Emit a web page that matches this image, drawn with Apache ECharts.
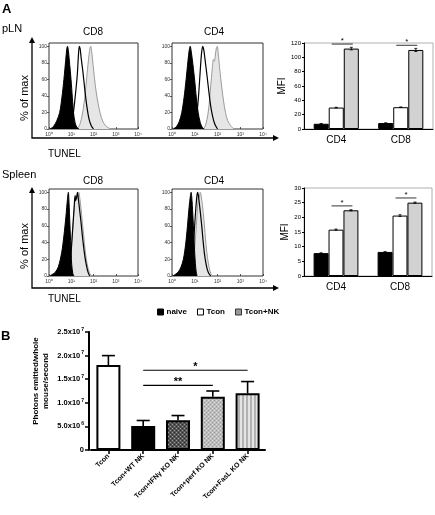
<!DOCTYPE html>
<html><head><meta charset="utf-8">
<script src="https://cdn.jsdelivr.net/npm/echarts@6/dist/echarts.min.js"></script>
<style>html,body{margin:0;padding:0;background:#fff}#c{width:435px;height:515px}</style>
</head><body><div id="c"></div><script>
// ---------- DATA ----------
// Histograms: [log10(TUNEL), % of max]
const histTickLabels = ['10\u2070','10\u00b9','10\u00b2','10\u00b3','10\u2074'];
const plnCd8Naive = [[0.05,0],[0.2,3],[0.35,10],[0.48,20],[0.58,38],[0.67,60],[0.75,83],[0.8,97],[0.83,100],[0.87,95],[0.93,78],[0.99,60],[1.05,38],[1.1,20],[1.17,8],[1.25,2],[1.35,0]];
const plnCd8Tcon = [[0.9,0],[0.98,4],[1.06,12],[1.12,25],[1.2,45],[1.27,65],[1.32,88],[1.36,100],[1.4,97],[1.45,85],[1.52,70],[1.58,55],[1.65,38],[1.72,24],[1.8,12],[1.9,4],[2.0,0]];
const plnCd8TconNK = [[1.25,0],[1.38,5],[1.5,18],[1.58,32],[1.66,52],[1.73,72],[1.8,90],[1.85,99],[1.88,100],[1.92,93],[1.98,78],[2.05,60],[2.12,45],[2.2,32],[2.3,19],[2.42,9],[2.55,4],[2.7,1],[2.8,0]];
const plnCd4Naive = [[0.05,0],[0.2,3],[0.32,9],[0.43,20],[0.53,38],[0.62,60],[0.7,82],[0.76,96],[0.8,100],[0.85,93],[0.92,78],[1.0,58],[1.07,38],[1.15,20],[1.24,8],[1.33,2],[1.42,0]];
const plnCd4Tcon = [[0.93,0],[1.0,4],[1.06,12],[1.12,25],[1.18,45],[1.24,70],[1.3,92],[1.35,100],[1.4,95],[1.47,80],[1.55,62],[1.62,45],[1.7,28],[1.78,16],[1.88,6],[2.0,0]];
const plnCd4TconNK = [[1.38,0],[1.48,5],[1.58,18],[1.65,35],[1.72,58],[1.78,76],[1.82,84],[1.86,82],[1.9,88],[1.95,98],[1.99,100],[2.03,92],[2.1,72],[2.18,52],[2.26,35],[2.35,20],[2.45,10],[2.58,4],[2.72,0]];
const splCd8Naive = [[0.05,0],[0.15,2],[0.27,4],[0.42,11],[0.57,28],[0.67,48],[0.76,71],[0.83,92],[0.87,100],[0.9,88],[0.94,62],[0.98,36],[1.02,14],[1.07,3],[1.12,0]];
const splCd8Tcon = [[0.75,0],[0.85,4],[0.93,14],[0.98,24],[1.03,42],[1.08,62],[1.13,82],[1.17,96],[1.2,90],[1.24,94],[1.28,100],[1.32,92],[1.38,78],[1.44,64],[1.5,48],[1.56,34],[1.62,22],[1.68,13],[1.75,5],[1.83,0]];
const splCd8TconNK = [[0.72,0],[0.82,5],[0.9,15],[0.97,28],[1.03,46],[1.09,66],[1.15,85],[1.2,96],[1.25,93],[1.3,98],[1.34,100],[1.38,94],[1.44,80],[1.5,64],[1.56,48],[1.62,32],[1.68,20],[1.75,10],[1.82,4],[1.9,0]];
const splCd4Naive = [[0.05,0],[0.15,2],[0.28,5],[0.4,11],[0.5,20],[0.6,38],[0.68,60],[0.75,82],[0.81,96],[0.84,100],[0.88,90],[0.93,66],[0.97,42],[1.01,22],[1.05,8],[1.1,0]];
const splCd4Tcon = [[0.7,0],[0.8,6],[0.88,18],[0.95,40],[1.0,62],[1.05,82],[1.1,97],[1.13,100],[1.17,94],[1.23,80],[1.3,62],[1.36,44],[1.42,28],[1.48,17],[1.55,8],[1.62,3],[1.7,0]];
const splCd4TconNK = [[0.72,0],[0.82,6],[0.9,14],[0.97,25],[1.03,45],[1.08,65],[1.13,86],[1.17,97],[1.2,94],[1.24,100],[1.28,96],[1.34,84],[1.4,68],[1.45,52],[1.5,36],[1.56,22],[1.62,12],[1.68,5],[1.76,0]];

// MFI bars
const mfiCategories = ['CD4','CD8'];
const mfiGroups = ['naive','Tcon','Tcon+NK'];
const plnNaive = [7.3, 8.3],   plnNaiveErr = [0.3, 0.3];
const plnTcon = [29.9, 30.4],  plnTconErr = [0.4, 0.4];
const plnTconNK = [112.2, 110.3], plnTconNKErr = [1.8, 2.2];
const plnSig = [118.5, 116.8];
const splNaive = [7.8, 8.2],   splNaiveErr = [0.1, 0.1];
const splTcon = [15.8, 20.6],  splTconErr = [0.2, 0.3];
const splTconNK = [22.4, 25.0], splTconNKErr = [0.2, 0.2];
const splSig = [23.9, 26.6];

// Panel B
const bCategories = ['Tcon','Tcon+WT NK','Tcon+IFN\u03b3 KO NK','Tcon+perf KO NK','Tcon+FasL KO NK'];
const bValues = [1.80e7, 0.51e7, 0.63e7, 1.13e7, 1.20e7];
const bErrors = [0.20e7, 0.115e7, 0.10e7, 0.12e7, 0.25e7];
const bSigFrom = [1, 1], bSigTo = [4, 3];
const bSigLevels = [1.69e7, 1.37e7];
const bSigLabels = ['*', '**'];

// ---------- STYLE ----------
const FONT = 'Liberation Sans, Arial, sans-serif';
function pattern(w, h, draw){ const c = document.createElement('canvas'); c.width = w; c.height = h; draw(c.getContext('2d')); return {image: c, repeat: 'repeat'}; }
const patIFN = pattern(4, 4, g => { g.fillStyle = '#555'; g.fillRect(0,0,4,4); g.fillStyle = '#9a9a9a'; g.fillRect(0,0,1,1); g.fillRect(2,2,1,1); g.fillStyle = '#2a2a2a'; g.fillRect(2,0,1,1); g.fillRect(0,2,1,1); });
const patPerf = pattern(4, 4, g => { g.fillStyle = '#bcbcbc'; g.fillRect(0,0,4,4); g.fillStyle = '#e2e2e2'; g.fillRect(0,0,1,1); g.fillRect(2,2,1,1); g.fillStyle = '#9a9a9a'; g.fillRect(2,0,1,1); g.fillRect(0,2,1,1); });
const patFasL = pattern(4, 4, g => { g.fillStyle = '#e4e4e4'; g.fillRect(0,0,2,4); g.fillStyle = '#b2b2b2'; g.fillRect(2,0,2,4); });
const bFills = ['#ffffff', '#000000', patIFN, patPerf, patFasL];

const histGrids = [
  {left: 49, top: 43, width: 89, height: 86},
  {left: 172, top: 43, width: 91, height: 86},
  {left: 49, top: 189, width: 89, height: 87},
  {left: 172, top: 189, width: 91, height: 87}
];
const histSets = [
  [plnCd8Naive, plnCd8Tcon, plnCd8TconNK],
  [plnCd4Naive, plnCd4Tcon, plnCd4TconNK],
  [splCd8Naive, splCd8Tcon, splCd8TconNK],
  [splCd4Naive, splCd4Tcon, splCd4TconNK]
];

const grids = [], xAxes = [], yAxes = [], series = [];
histGrids.forEach((g, i) => {
  grids.push(Object.assign({show: true, borderColor: '#333', borderWidth: 1, backgroundColor: 'transparent', outerBoundsMode: 'none', containLabel: false}, g));
  xAxes.push({type: 'value', gridIndex: i, min: 0, max: 4, interval: 1,
    axisLine: {show: false}, splitLine: {show: false},
    axisTick: {show: true, inside: true, length: 2, lineStyle: {color: '#333', width: 0.8}},
    axisLabel: {fontSize: 5, color: '#333', margin: 3, fontFamily: FONT, formatter: v => histTickLabels[v] || ''}});
  yAxes.push({type: 'value', gridIndex: i, min: 0, max: 104, interval: 20,
    axisLine: {show: false}, splitLine: {show: false},
    axisTick: {show: true, length: 2, lineStyle: {color: '#333', width: 0.8}},
    axisLabel: {fontSize: 5, color: '#333', margin: 2, fontFamily: FONT, showMaxLabel: false, formatter: v => v % 20 === 0 ? String(v) : ''}});
  const [nv, tc, tn] = histSets[i];
  series.push({type: 'line', xAxisIndex: i, yAxisIndex: i, data: tn, symbol: 'none', smooth: 0.3,
    lineStyle: {color: '#9a9a9a', width: 1}, areaStyle: {color: '#e6e6e6', opacity: 1}, z: 2, silent: true});
  series.push({type: 'line', xAxisIndex: i, yAxisIndex: i, data: nv, symbol: 'none', smooth: 0.3,
    lineStyle: {color: '#000', width: 1}, areaStyle: {color: '#000', opacity: 1}, z: 3, silent: true});
  series.push({type: 'line', xAxisIndex: i, yAxisIndex: i, data: tc, symbol: 'none', smooth: 0.3,
    lineStyle: {color: '#000', width: 1.2}, z: 4, silent: true});
});

// MFI charts
const mfiDefs = [
  {grid: {left: 304, top: 43, width: 129, height: 86}, max: 120, interval: 20,
   vals: [plnNaive, plnTcon, plnTconNK], errs: [plnNaiveErr, plnTconErr, plnTconNKErr], sig: plnSig},
  {grid: {left: 304, top: 188, width: 128, height: 88}, max: 30, interval: 5,
   vals: [splNaive, splTcon, splTconNK], errs: [splNaiveErr, splTconErr, splTconNKErr], sig: splSig}
];
const mfiColors = ['#000000', '#ffffff', '#d2d2d2'];
mfiDefs.forEach(d => {
  const gi = grids.length;
  grids.push(Object.assign({show: true, borderColor: '#b0b0b0', borderWidth: 1, outerBoundsMode: 'none', containLabel: false}, d.grid));
  xAxes.push({type: 'category', gridIndex: gi, data: mfiCategories,
    axisLine: {show: true, lineStyle: {color: '#000', width: 1}}, axisTick: {show: false},
    axisLabel: {fontSize: 10, color: '#000', margin: 6, fontFamily: FONT}});
  yAxes.push({type: 'value', gridIndex: gi, min: 0, max: d.max, interval: d.interval,
    name: 'MFI', nameLocation: 'middle', nameGap: 12, nameTextStyle: {fontSize: 10, color: '#000', fontFamily: FONT},
    axisLine: {show: true, lineStyle: {color: '#000', width: 1}}, splitLine: {show: false},
    axisTick: {show: true, length: 2, lineStyle: {color: '#000'}},
    axisLabel: {fontSize: 6, color: '#000', margin: 3, fontFamily: FONT}});
  mfiGroups.forEach((name, k) => {
    series.push({type: 'bar', name: name, xAxisIndex: gi, yAxisIndex: gi, data: d.vals[k],
      barGap: '0%', barCategoryGap: '30%',
      itemStyle: {color: mfiColors[k], borderColor: '#000', borderWidth: 1}, z: 2, silent: true});
  });
  const errData = [];
  mfiGroups.forEach((name, k) => d.vals[k].forEach((v, c) => errData.push([c, v, d.errs[k][c], k])));
  series.push({type: 'custom', xAxisIndex: gi, yAxisIndex: gi, data: errData, encode: {x: 0, y: 1}, z: 5, silent: true,
    renderItem: (params, api) => {
      const c = api.value(0), v = api.value(1), e = api.value(2), k = api.value(3);
      const bw = api.size([1, 0])[0] * 0.7 / 3;
      const x = api.coord([c, v])[0] + (k - 1) * bw;
      const t = api.coord([c, v + e])[1], b = api.coord([c, v - e])[1];
      const st = {stroke: '#000', lineWidth: 0.8};
      return {type: 'group', children: [
        {type: 'line', shape: {x1: x, y1: t, x2: x, y2: b}, style: st},
        {type: 'line', shape: {x1: x - 1.5, y1: t, x2: x + 1.5, y2: t}, style: st},
        {type: 'line', shape: {x1: x - 1.5, y1: b, x2: x + 1.5, y2: b}, style: st}]};
    }});
  series.push({type: 'custom', xAxisIndex: gi, yAxisIndex: gi, data: d.sig.map((s, c) => [c, s]), encode: {x: 0, y: 1}, z: 5, silent: true,
    renderItem: (params, api) => {
      const c = api.value(0), s = api.value(1);
      const bw = api.size([1, 0])[0] * 0.7 / 3;
      const p = api.coord([c, s]);
      const x1 = p[0] - 0.3 * bw, x2 = p[0] + bw + 0.1 * bw;
      return {type: 'group', children: [
        {type: 'line', shape: {x1: x1, y1: p[1], x2: x2, y2: p[1]}, style: {stroke: '#000', lineWidth: 0.8}},
        {type: 'text', x: (x1 + x2) / 2, y: p[1] + 1, style: {text: '*', textAlign: 'center', textVerticalAlign: 'bottom', font: '8px ' + FONT, fill: '#000'}}]};
    }});
});

// Panel B
const bi = grids.length;
grids.push({left: 91, top: 332, width: 174, height: 118, outerBoundsMode: 'none', containLabel: false});
xAxes.push({type: 'category', gridIndex: bi, data: bCategories,
  axisLine: {show: true, lineStyle: {color: '#000', width: 2}},
  axisTick: {show: true, alignWithLabel: true, length: 4, lineStyle: {color: '#000', width: 1.5}},
  axisLabel: {rotate: 45, fontSize: 7, fontWeight: 'bold', color: '#000', margin: 5, fontFamily: FONT, interval: 0}});
yAxes.push({type: 'value', gridIndex: bi, min: 0, max: 2.5e7, interval: 5e6, offset: 2,
  name: 'Photons emitted/whole\nmouse/second', nameLocation: 'middle', nameGap: 38,
  nameTextStyle: {fontSize: 8, fontWeight: 'bold', color: '#000', lineHeight: 10, fontFamily: FONT, padding: [0, 0, 0, 20]},
  axisLine: {show: true, lineStyle: {color: '#000', width: 2}}, splitLine: {show: false},
  axisTick: {show: true, length: 4, lineStyle: {color: '#000', width: 1.5}},
  axisLabel: {color: '#000', margin: 5, fontFamily: FONT,
    formatter: v => { if (v === 0) return '{b|0}'; const e = Math.floor(Math.log10(v) + 1e-9); const m = v / Math.pow(10, e); return '{b|' + m.toFixed(1) + 'x10}{s|' + e + '}'; },
    rich: {b: {fontSize: 7.5, fontWeight: 'bold', fontFamily: FONT, color: '#000'}, s: {fontSize: 5, fontWeight: 'bold', fontFamily: FONT, color: '#000', padding: [0, 0, 5, 1]}}}});
series.push({type: 'bar', xAxisIndex: bi, yAxisIndex: bi, barCategoryGap: '31%', silent: true, z: 2,
  data: bValues.map((v, i) => ({value: v, itemStyle: {color: bFills[i], borderColor: '#000', borderWidth: 2}}))});
series.push({type: 'custom', xAxisIndex: bi, yAxisIndex: bi, data: bValues.map((v, i) => [i, v, bErrors[i]]), encode: {x: 0, y: 1}, z: 1, silent: true,
  renderItem: (params, api) => {
    const p = api.coord([api.value(0), api.value(1)]);
    const t = api.coord([api.value(0), api.value(1) + api.value(2)]);
    const st = {stroke: '#000', lineWidth: 1.6};
    return {type: 'group', children: [
      {type: 'line', shape: {x1: p[0], y1: p[1], x2: p[0], y2: t[1]}, style: st},
      {type: 'line', shape: {x1: p[0] - 6.5, y1: t[1], x2: p[0] + 6.5, y2: t[1]}, style: st}]};
  }});
series.push({type: 'custom', xAxisIndex: bi, yAxisIndex: bi, data: bSigLevels.map((y, i) => [bSigFrom[i], y, bSigTo[i]]), encode: {x: 0, y: 1}, z: 5, silent: true,
  renderItem: (params, api) => {
    const a = api.coord([api.value(0), api.value(1)]);
    const b = api.coord([api.value(2), api.value(1)]);
    return {type: 'group', children: [
      {type: 'line', shape: {x1: a[0], y1: a[1], x2: b[0], y2: b[1]}, style: {stroke: '#000', lineWidth: 1.2}},
      {type: 'text', x: (a[0] + b[0]) / 2, y: a[1] + 2, style: {text: bSigLabels[params.dataIndex], textAlign: 'center', textVerticalAlign: 'bottom', font: 'bold 11px ' + FONT, fill: '#000'}}]};
  }});

// decorative text and outer arrows
const T = (text, x, y, size, opt) => Object.assign({type: 'text', x: x, y: y, silent: true,
  style: Object.assign({text: text, font: size + 'px ' + FONT, fill: '#000', textAlign: 'left', textVerticalAlign: 'middle'}, opt || {})});
const arrowStyle = {stroke: '#000', lineWidth: 1.3, fill: null};
const graphics = [
  T('A', 2, 9, 13, {font: 'bold 13px ' + FONT}),
  T('pLN', 2, 29, 11),
  T('CD8', 93, 32, 10, {textAlign: 'center'}),
  T('CD4', 214, 32, 10, {textAlign: 'center'}),
  T('Spleen', 2, 175, 11),
  T('CD8', 93, 181, 10, {textAlign: 'center'}),
  T('CD4', 214, 181, 10, {textAlign: 'center'}),
  T('TUNEL', 48, 154, 10),
  T('TUNEL', 48, 299, 10),
  Object.assign(T('% of max', 25, 98, 11, {textAlign: 'center'}), {rotation: Math.PI / 2}),
  Object.assign(T('% of max', 25, 246, 11, {textAlign: 'center'}), {rotation: Math.PI / 2}),
  T('B', 1, 336, 13, {font: 'bold 13px ' + FONT}),
  {type: 'polyline', silent: true, shape: {points: [[32, 42], [32, 138], [274, 138]]}, style: arrowStyle},
  {type: 'polygon', silent: true, shape: {points: [[29, 43], [35, 43], [32, 37]]}, style: {fill: '#000'}},
  {type: 'polygon', silent: true, shape: {points: [[273, 135], [273, 141], [279, 138]]}, style: {fill: '#000'}},
  {type: 'polyline', silent: true, shape: {points: [[32, 192], [32, 288], [274, 288]]}, style: arrowStyle},
  {type: 'polygon', silent: true, shape: {points: [[29, 193], [35, 193], [32, 187]]}, style: {fill: '#000'}},
  {type: 'polygon', silent: true, shape: {points: [[273, 285], [273, 291], [279, 288]]}, style: {fill: '#000'}}
];

const chart = echarts.init(document.getElementById('c'), null, {renderer: 'canvas'});
chart.setOption({
  animation: false,
  backgroundColor: '#fff',
  textStyle: {fontFamily: FONT},
  legend: {left: 152, top: 303, icon: 'rect', itemWidth: 6, itemHeight: 6, itemGap: 10, selectedMode: false,
    textStyle: {fontSize: 8, fontWeight: 'bold', color: '#000', fontFamily: FONT, padding: [0, 0, 0, -2]},
    data: [
      {name: 'naive', itemStyle: {color: '#000', borderColor: '#000', borderWidth: 1}},
      {name: 'Tcon', itemStyle: {color: '#fff', borderColor: '#000', borderWidth: 1}},
      {name: 'Tcon+NK', itemStyle: {color: '#999', borderColor: '#333', borderWidth: 1}}]},
  grid: grids, xAxis: xAxes, yAxis: yAxes, series: series, graphic: graphics
});
</script></body></html>
